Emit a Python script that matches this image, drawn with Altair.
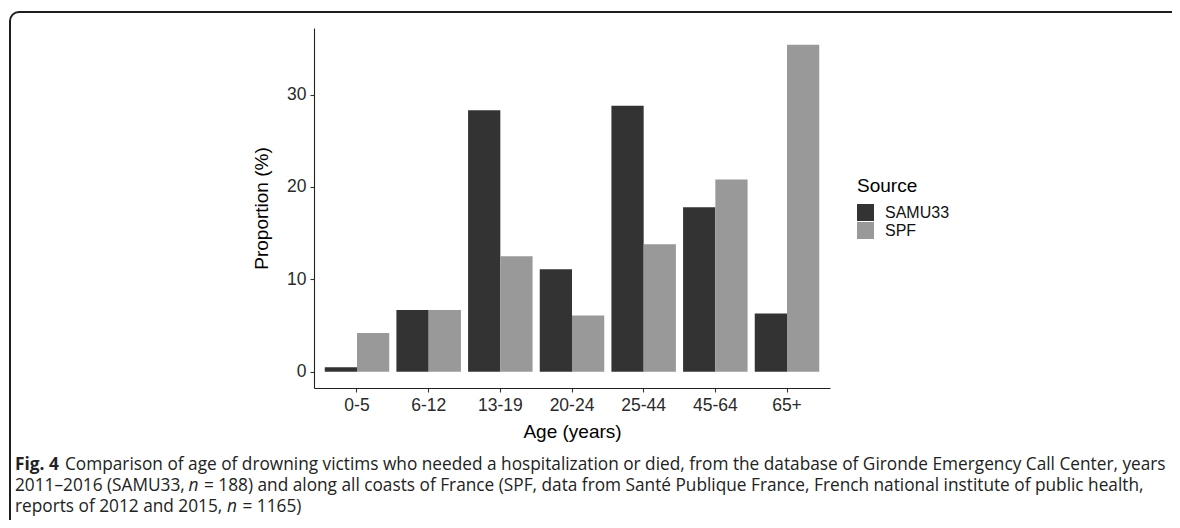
import altair as alt
import pandas as pd

ages = ["0-5", "6-12", "13-19", "20-24", "25-44", "45-64", "65+"]
samu33 = [0.5, 6.7, 28.3, 11.1, 28.8, 17.8, 6.3]
spf = [4.2, 6.7, 12.5, 6.1, 13.8, 20.8, 35.4]
sources = ["SAMU33", "SPF"]
colors = ["#333333", "#999999"]
y_ticks = [0, 10, 20, 30]

cap1_bold = "Fig. 4"
cap1_rest = "Comparison of age of drowning victims who needed a hospitalization or died, from the database of Gironde Emergency Call Center, years"
cap2_a = "2011\u20132016 (SAMU33,"
cap2_b = "= 188) and along all coasts of France (SPF, data from Sant\u00e9 Publique France, French national institute of public health,"
cap3_a = "reports of 2012 and 2015,"
cap3_b = "= 1165)"

rows = []
for a, s1, s2 in zip(ages, samu33, spf):
    rows.append({"age": a, "source": sources[0], "value": s1})
    rows.append({"age": a, "source": sources[1], "value": s2})
df = pd.DataFrame(rows)

W, H = 516, 360
FONT = "Liberation Sans"
CAPFONT = "Open Sans"
CAPSIZE = 17.25

bars = alt.Chart(df).mark_bar(strokeWidth=0).encode(
    x=alt.X(
        "age:N", sort=ages,
        scale=alt.Scale(paddingInner=0.1, paddingOuter=0.15),
        axis=alt.Axis(title="Age (years)", labelAngle=0, labelPadding=4, titlePadding=9),
    ),
    xOffset=alt.XOffset("source:N", sort=sources, scale=alt.Scale(paddingInner=0, paddingOuter=0)),
    y=alt.Y(
        "value:Q", stack=None,
        scale=alt.Scale(domain=[-1.75, 37.2], nice=False, zero=False),
        axis=alt.Axis(title="Proportion (%)", values=y_ticks, labelPadding=4, titlePadding=15),
    ),
    y2=alt.datum(0),
    color=alt.Color(
        "source:N",
        scale=alt.Scale(domain=sources, range=colors),
        legend=alt.Legend(
            title="Source", orient="none", legendX=543, legendY=149,
            direction="vertical", symbolType="square", symbolSize=289,
            symbolStrokeWidth=0, symbolOpacity=1, rowPadding=1, labelOffset=11,
            titlePadding=8, titleFontSize=19, titleFont=FONT, titleFontWeight="normal",
            titleColor="#000000", labelFontSize=16, labelFont=FONT, labelColor="#111111",
        ),
    ),
)

frame = alt.Chart(pd.DataFrame({"k": [0]})).mark_rect(
    fill="white", fillOpacity=0, stroke="#1e1e1e", strokeWidth=2, cornerRadius=9
).encode(
    x=alt.value(-304), x2=alt.value(920), y=alt.value(-16), y2=alt.value(560)
)


def txt(text, x, y, **kw):
    return alt.Chart(pd.DataFrame({"t": [text]})).mark_text(
        align="left", baseline="middle", font=CAPFONT, fontSize=CAPSIZE, color="#222222", **kw
    ).encode(x=alt.value(x), y=alt.value(y), text="t:N")


X0 = -299
L1, L2, L3 = 437, 458, 479
caps = [
    txt(cap1_bold, X0, L1, fontWeight="bold"),
    txt(cap1_rest, X0 + 50, L1),
    txt(cap2_a, X0, L2),
    txt("n", X0 + 173.5, L2, fontStyle="italic"),
    txt(cap2_b, X0 + 189, L2),
    txt(cap3_a, X0, L3),
    txt("n", X0 + 212, L3, fontStyle="italic"),
    txt(cap3_b, X0 + 227.5, L3),
]

chart = alt.layer(frame, bars, *caps).properties(
    width=W, height=H,
    autosize=alt.AutoSizeParams(type="none"),
    padding={"left": 306, "top": 20, "right": 342, "bottom": 132},
).configure_view(stroke=None).configure_axis(
    grid=False, domainColor="#222222", domainWidth=1.1, tickColor="#333333",
    tickSize=4, tickWidth=1.1, labelFont=FONT, labelFontSize=17.5, labelColor="#2a2a2a",
    titleFont=FONT, titleFontSize=19, titleFontWeight="normal", titleColor="#000000",
)

chart.save("out.html", embed_options={"renderer": "svg", "actions": False})
